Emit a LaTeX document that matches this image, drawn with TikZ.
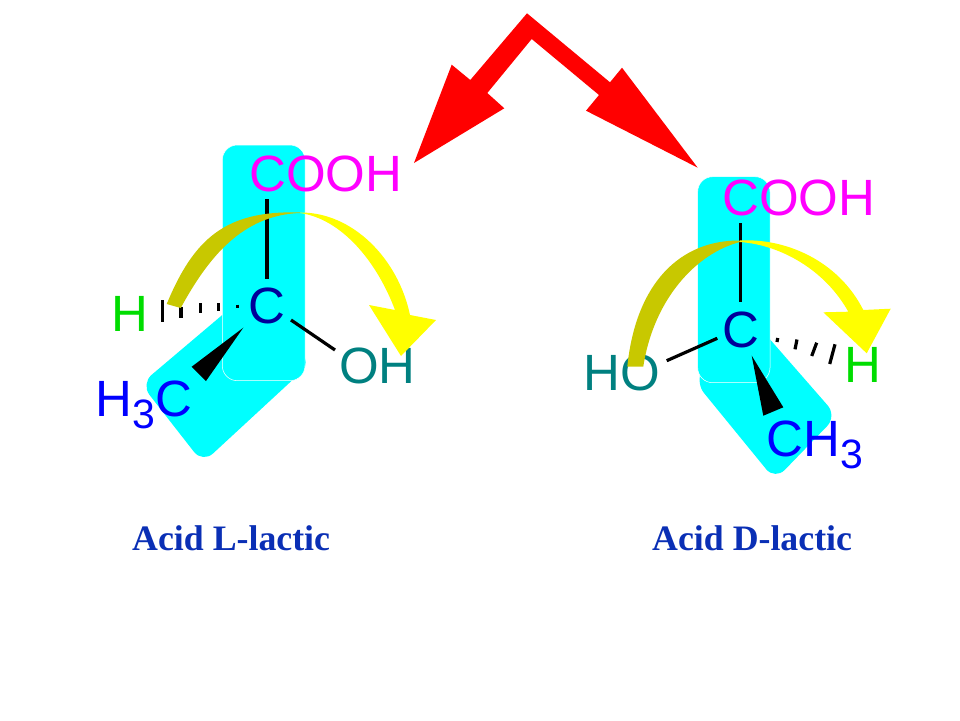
\documentclass[tikz,border=0pt]{standalone}
\usepackage{fontspec}
\setmainfont{Liberation Sans}
\newfontfamily\labelfont{Liberation Serif}
\definecolor{acidblue}{HTML}{0A2FB5}
\definecolor{chemgreen}{HTML}{00DD00}
\definecolor{chemteal}{HTML}{008080}
\definecolor{chemnavy}{HTML}{000099}
\definecolor{chemolive}{HTML}{C8C800}
\definecolor{chemmagenta}{HTML}{FF00FF}
\definecolor{chemyellow}{HTML}{FFFF00}
\definecolor{chemcyan}{HTML}{00FFFF}
\definecolor{chemred}{HTML}{FF0000}
\definecolor{chemblue}{HTML}{0000FF}
\newcommand{\bigtxt}{\fontsize{51}{51}\selectfont}
\newcommand{\subtxt}[1]{\raisebox{-12pt}{\fontsize{41}{41}\selectfont #1}}
\tikzset{
  atom/.style={anchor=base west,inner sep=0pt,font=\bigtxt},
  band/.style={fill=chemcyan,draw=none,rounded corners=14pt},
  bandrect/.style={fill=chemcyan,draw=white,line width=0.5pt,rounded corners=15pt},
  bond/.style={draw=black,line width=3.2pt},
  hash/.style={draw=black,line width=3.2pt},
  wedge/.style={fill=black,draw=none},
  caption/.style={anchor=base west,inner sep=0pt,text=acidblue,font=\labelfont\bfseries\fontsize{35.8}{36}\selectfont}
}
\begin{document}
\begin{tikzpicture}[x=1pt,y=-1pt]
\useasboundingbox (0,0) rectangle (960,720);
% red double arrow
\fill[chemred] (527,13.3) -- (610,82.3) -- (622,67.7) -- (697.7,167.7) -- (586,110.7) -- (599,95) -- (531.7,39) -- (487.3,93) -- (504.3,108.3) -- (414,163) -- (451.7,64.7) -- (470.3,80) -- cycle;
% left molecule
\fill[band] (240,300) -- (140.9,383.9) -- (202.7,463) -- (312,362) -- cycle;
\filldraw[bandrect] (222.3,145) rectangle (305,380.7);
\node[atom,text=chemmagenta] (lc) at (249,191.7) {COOH};
\node[atom,text=chemnavy] (lcc) at (248,323) {C};
\node[atom,text=chemteal] (loh) at (339,383) {OH};
\node[atom,text=chemgreen] (lh) at (111,331.7) {H};
\node[atom,text=chemblue] (lch) at (95.5,416.7) {H\subtxt{3}C};
\coordinate (lb1) at (267,199.3); \coordinate (lb2) at (267,279);
\coordinate (lb3) at (291,320); \coordinate (lb4) at (335,350);
\draw[bond] (lb1) -- (lb2);
\draw[bond] (lb3) -- (lb4);
\fill[wedge] (243.3,327.7) -- (191.7,366.7) -- (206,381) -- cycle;
\draw[hash] (162.3,300) -- (162.3,321.7);
\draw[hash] (181,306.7) -- (181,317.7);
\draw[hash] (200.5,303) -- (200.5,313);
\draw[hash] (218.3,303) -- (218.3,311);
\draw[hash] (237.3,304.5) -- (237.3,307.5);
\fill[chemolive] (166.7,304) .. controls (193.6,239.3) and (225,210) .. (300,212.5) -- (300,213) .. controls (242,215) and (208,258) .. (180.7,308) -- cycle;
\fill[chemyellow] (300,212.5) .. controls (352,212) and (398,258) .. (410,315) -- (436,320) -- (401,356) -- (369,305) -- (395,310) .. controls (377,262) and (342,219) .. (300,213) -- cycle;
% right molecule
\fill[band] (740,305) -- (695,382) -- (775,480) -- (836.9,416) -- cycle;
\filldraw[bandrect] (697.7,176.7) rectangle (770,382.7);
\node[atom,text=chemmagenta] (rc) at (722,215.7) {COOH};
\node[atom,text=chemnavy] (rcc) at (722,347) {C};
\node[atom,text=chemteal] (rho) at (583,390.7) {HO};
\node[atom,text=chemgreen] (rh) at (844,382) {H};
\node[atom,text=chemblue] (rch) at (766.5,456.7) {CH\subtxt{3}};
\coordinate (rb1) at (740.3,223.3); \coordinate (rb2) at (740.3,302.3);
\coordinate (rb3) at (666.7,360.7); \coordinate (rb4) at (717.3,338.3);
\draw[bond] (rb1) -- (rb2);
\draw[bond] (rb3) -- (rb4);
\fill[wedge] (751.7,355.7) -- (763.3,415.7) -- (783.3,407.3) -- cycle;
\draw[hash] (777.7,338) -- (777,342);
\draw[hash] (797,339.5) -- (795,349.3);
\draw[hash] (816.7,342.7) -- (811.7,356);
\draw[hash] (835,344.3) -- (829.7,364);
\fill[chemolive] (627.3,366.5) .. controls (636,283) and (680,240) .. (740,240.5) -- (740,242) .. controls (697,253) and (654,298) .. (643.3,366.5) -- cycle;
\fill[chemyellow] (740,240.5) .. controls (785,238) and (838,260) .. (863.3,310) -- (890.7,308.7) -- (866.7,353.3) -- (823.3,312.3) -- (848.3,311.7) .. controls (825,270) and (781,245) .. (740,242) -- cycle;
% captions
\node[caption] (cl) at (132,550) {Acid L-lactic};
\node[caption] (cr) at (652,550) {Acid D-lactic};
\end{tikzpicture}
\end{document}
